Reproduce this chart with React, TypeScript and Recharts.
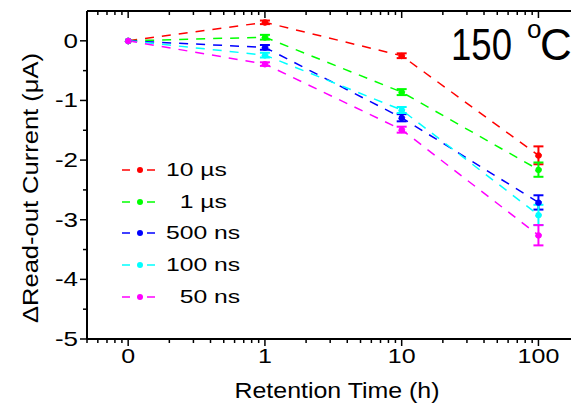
import React from 'react';
import { ComposedChart, Line, XAxis, YAxis, ErrorBar, Legend } from 'recharts';

// retention time in hours, "0" is placed at 0.1 on the log axis
const times = [0.1, 1, 10, 100];
const timeLabels = ['0', '1', '10', '100'];

const seriesNames = ['10 µs', '  1 µs', '500 ns', '100 ns', '  50 ns'];
const seriesColors = ['#ff0000', '#00ff00', '#0000ff', '#00ffff', '#ff00ff'];

// ΔRead-out current (µA) and error bars
const val10us = [0, 0.31, -0.25, -1.92];
const err10us = [null, 0.03, 0.04, 0.15];
const val1us = [0, 0.06, -0.86, -2.16];
const err1us = [null, 0.04, 0.05, 0.12];
const val500ns = [0, -0.11, -1.29, -2.71];
const err500ns = [null, 0.04, 0.06, 0.12];
const val100ns = [0, -0.24, -1.16, -2.92];
const err100ns = [null, 0.04, 0.05, 0.17];
const val50ns = [0, -0.39, -1.49, -3.26];
const err50ns = [null, 0.03, 0.05, 0.17];

const xTicks = [
  0.05, 0.06, 0.07, 0.08, 0.09, 0.1,
  0.2, 0.3, 0.4, 0.5, 0.6, 0.7, 0.8, 0.9, 1,
  2, 3, 4, 5, 6, 7, 8, 9, 10,
  20, 30, 40, 50, 60, 70, 80, 90, 100,
];
const yTicks = [-5, -4.5, -4, -3.5, -3, -2.5, -2, -1.5, -1, -0.5, 0];
const yLabels = [-5, -4, -3, -2, -1, 0];

const allVals = [val10us, val1us, val500ns, val100ns, val50ns];
const allErrs = [err10us, err1us, err500ns, err100ns, err50ns];

const data = times.map((t, i) => {
  const row: Record<string, number | null> = { t };
  allVals.forEach((v, k) => {
    row['s' + k] = v[i];
    row['e' + k] = allErrs[k][i];
  });
  return row;
});

const FONT = '"Liberation Sans", Arial, sans-serif';

const BottomTick = (props: any) => {
  const { x, y, payload } = props;
  const idx = times.findIndex(t => Math.abs(t - payload.value) < 1e-9);
  const major = idx >= 0;
  return (
    <g>
      <line x1={x} y1={y} x2={x} y2={y + (major ? 7 : 4)} stroke="#000" strokeWidth={1.5} />
      {major && (
        <text
          transform={`translate(${x} ${y + 24}) scale(1.25 1)`}
          textAnchor="middle" fontSize={20} fontFamily={FONT} fill="#000"
        >
          {timeLabels[idx]}
        </text>
      )}
    </g>
  );
};

const TopTick = (props: any) => {
  const { x, y, payload } = props;
  const major = times.some(t => Math.abs(t - payload.value) < 1e-9);
  return <line x1={x} y1={y} x2={x} y2={y + (major ? 7 : 4)} stroke="#000" strokeWidth={1.5} />;
};

const LeftTick = (props: any) => {
  const { x, y, payload } = props;
  const major = yLabels.includes(payload.value);
  return (
    <g>
      <line x1={x} y1={y} x2={x - (major ? 7 : 4)} y2={y} stroke="#000" strokeWidth={1.5} />
      {major && (
        <text
          transform={`translate(${x - 9} ${y + 7}) scale(1.3 1)`}
          textAnchor="end" fontSize={20} fontFamily={FONT} fill="#000"
        >
          {payload.value}
        </text>
      )}
    </g>
  );
};

const renderLegend = () => (
  <div style={{ fontFamily: FONT }}>
    {seriesNames.map((name, i) => (
      <div key={i} style={{ display: 'flex', alignItems: 'center', height: 31.7 }}>
        <svg width={48} height={20}>
          <line x1={4} y1={10} x2={12} y2={10} stroke={seriesColors[i]} strokeWidth={1.5} />
          <circle cx={22} cy={10} r={3} fill={seriesColors[i]} />
          <line x1={29} y1={10} x2={37} y2={10} stroke={seriesColors[i]} strokeWidth={1.5} />
        </svg>
        <span
          style={{
            fontSize: 19, whiteSpace: 'pre', color: '#000', display: 'inline-block',
            transform: 'scaleX(1.3)', transformOrigin: 'left center',
          }}
        >
          {name}
        </span>
      </div>
    ))}
  </div>
);

export default function App() {
  return (
    <div style={{ position: 'absolute', left: 0, top: 0, width: 571, height: 405, background: '#fff' }}>
      <ComposedChart width={571} height={405} data={data} margin={{ top: 10, right: 0, left: 86, bottom: 65 }}>
        <XAxis
          xAxisId="bottom"
          dataKey="t"
          type="number"
          scale="log"
          domain={[0.05, 173]}
          allowDataOverflow
          ticks={xTicks}
          interval={0}
          height={1}
          tickSize={0}
          tickMargin={0}
          tickLine={false}
          tick={<BottomTick />}
          axisLine={{ stroke: '#000', strokeWidth: 2 }}
        />
        <XAxis
          xAxisId="top"
          orientation="top"
          dataKey="t"
          type="number"
          scale="log"
          domain={[0.05, 173]}
          allowDataOverflow
          ticks={xTicks}
          interval={0}
          height={1}
          tickSize={0}
          tickMargin={0}
          tickLine={false}
          tick={<TopTick />}
          axisLine={{ stroke: '#000', strokeWidth: 2 }}
        />
        <YAxis
          type="number"
          domain={[-5, 0.5]}
          allowDataOverflow
          ticks={yTicks}
          interval={0}
          width={1}
          tickSize={0}
          tickMargin={0}
          tickLine={false}
          tick={<LeftTick />}
          axisLine={{ stroke: '#000', strokeWidth: 2 }}
        />
        <Legend
          layout="vertical"
          align="center"
          verticalAlign="middle"
          content={renderLegend}
          wrapperStyle={{ position: 'absolute', left: 118, top: 154, width: 160 }}
        />
        {seriesNames.map((name, k) => (
          <Line
            key={k}
            xAxisId="bottom"
            dataKey={'s' + k}
            name={name}
            stroke={seriesColors[k]}
            strokeWidth={1.5}
            strokeDasharray="9 8"
            dot={{ r: 3, fill: seriesColors[k], stroke: seriesColors[k], strokeWidth: 1 }}
            isAnimationActive={false}
          >
            <ErrorBar dataKey={'e' + k} width={5} stroke={seriesColors[k]} strokeWidth={2} direction="y" />
          </Line>
        ))}
      </ComposedChart>
      <svg
        width={571}
        height={405}
        style={{ position: 'absolute', left: 0, top: 0, pointerEvents: 'none' }}
        fontFamily={FONT}
      >
        <text
          x={30} y={188} transform="rotate(-90 30 188)" textAnchor="middle" dominantBaseline="central"
          fontSize={22} textLength={270} lengthAdjust="spacingAndGlyphs"
        >
          ΔRead-out Current (μA)
        </text>
        <text x={337} y={398} textAnchor="middle" fontSize={22} textLength={205} lengthAdjust="spacingAndGlyphs">
          Retention Time (h)
        </text>
        <text x={451} y={60} fontSize={44} textLength={61} lengthAdjust="spacingAndGlyphs">150</text>
        <text x={527} y={38} fontSize={26}>o</text>
        <text x={540} y={60} fontSize={44}>C</text>
      </svg>
    </div>
  );
}
